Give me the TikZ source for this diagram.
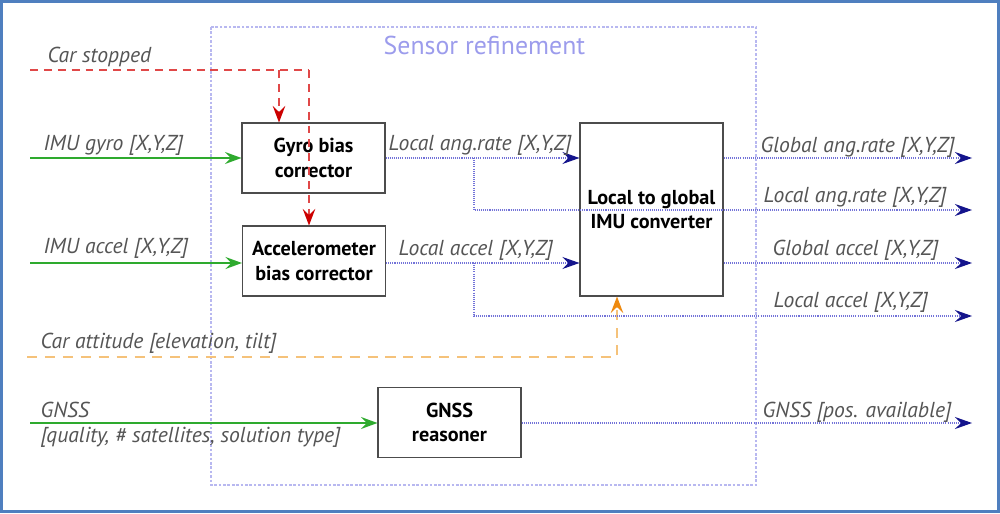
\documentclass[tikz,border=0pt]{standalone}
\usepackage{fontspec}
\setmainfont{PT Sans}
\usepackage{xcolor}
\usetikzlibrary{positioning}
\usetikzlibrary{arrows.meta}

\definecolor{framecol}{HTML}{4F7FBF}
\definecolor{groupcol}{HTML}{B8B8F0}
\definecolor{titlecol}{HTML}{9C9CEC}
\definecolor{labelcol}{HTML}{555555}
\definecolor{ingreen}{HTML}{2EAA2E}
\definecolor{stopred}{HTML}{E04848}
\definecolor{attorange}{HTML}{F5C27A}
\definecolor{attdark}{HTML}{EE8A10}
\definecolor{outline}{HTML}{7272D8}
\definecolor{outnavy}{HTML}{14148C}

\begin{document}
\begin{tikzpicture}[x=0.2mm, y=-0.2mm, thick,
  block/.style = {draw=black!70, semithick, minimum width=28.6mm, minimum height=14mm, align=center, font=\bfseries\fontsize{11.5}{14}\selectfont},
  lbl/.style = {anchor=west, inner sep=0pt, text=labelcol, font=\itshape\fontsize{12.3}{14}\selectfont},
  green in/.style = {draw=ingreen, -{Stealth[length=3.3mm, width=2.4mm, inset=1.2mm]}},
  stop in/.style = {draw=stopred, line width=0.8pt, dash pattern=on 4.5pt off 3.4pt, -{Stealth[length=3.3mm, width=2.5mm, inset=1.2mm, color=red!80!black]}},
  att in/.style = {draw=attorange, line width=0.8pt, dash pattern=on 5.7pt off 4.5pt, -{Stealth[length=3.3mm, width=2.5mm, inset=1.2mm, color=attdark]}},
  outflow/.style = {draw=outline, line width=0.7pt, dash pattern=on 0.6pt off 0.6pt, -{Stealth[length=3.4mm, width=2.4mm, inset=1.2mm, color=outnavy]}}]

\useasboundingbox (0,0) rectangle (1000,513);
\draw[framecol, line width=0.6mm] (1.5,1.5) rectangle (998.5,511.5);

% sensor refinement group
\draw[groupcol, line width=0.6pt, dash pattern=on 1.5pt off 1pt] (211,27) rectangle (756,485);
\node[text=titlecol, font=\fontsize{14.7}{16}\selectfont, anchor=west, inner sep=0pt] (title) at (383,45) {Sensor refinement};

% blocks
\node[block] (gyro) at (313.5,158) {Gyro bias\\corrector};
\node[block] (accel) at (314,261) {Accelerometer\\bias corrector};
\node[block, minimum height=34.6mm] (conv) at (651.5,209.5) {Local to global\\IMU converter};
\node[block] (gnss) at (449.5,422.5) {GNSS\\reasoner};

% free ends
\coordinate (stopin) at (30,70);
\coordinate (stopa) at (309,70);
\coordinate (stopg) at (279,70);
\coordinate (gyroin) at (30,158);
\coordinate (accelin) at (30,263);
\coordinate (attin) at (27,357);
\coordinate (attup) at (617,357);
\coordinate (gnssin) at (30,423);
\coordinate (rateup) at (474,158);
\coordinate (accup) at (474,263);
\coordinate (grate) at (972,158);
\coordinate (lrate) at (972,210);
\coordinate (gacc) at (972,263);
\coordinate (lacc) at (972,316);
\coordinate (gpos) at (972,423);

% inputs
\draw[stop in, -] (stopin) -- (stopa);
\draw[stop in] (stopa) -- (stopa |- accel.north);
\draw[stop in] (stopg) -- (stopg |- gyro.north);
\draw[green in] (gyroin) -- (gyro);
\draw[green in] (accelin) -- (accelin -| accel.west);
\draw[att in] (attin) -- (attup) -- (attup |- conv.south);
\draw[green in] (gnssin) -- (gnssin -| gnss.west);

% outputs
\draw[outflow] (gyro) -- (gyro -| conv.west);
\draw[outflow] (rateup) |- (lrate);
\draw[outflow] (accel.east |- accelin) -- (accelin -| conv.west);
\draw[outflow] (accup) |- (lacc);
\draw[outflow] (conv.east |- grate) -- (grate);
\draw[outflow] (conv.east |- gacc) -- (gacc);
\draw[outflow] (gnss.east |- gpos) -- (gpos);

% labels
\node[lbl] (l1) at (47,57) {Car stopped};
\node[lbl] (l2) at (43,145) {IMU gyro [X,Y,Z]};
\node[lbl] (l3) at (43,248) {IMU accel [X,Y,Z]};
\node[lbl] (l4) at (40,343) {Car attitude [elevation, tilt]};
\node[lbl] (l5) at (40,410) {GNSS};
\node[lbl] (l6) at (40,437) {[quality, \# satellites, solution type]};
\node[lbl] (l7) at (388,145) {Local ang.rate [X,Y,Z]};
\node[lbl] (l8) at (398,250) {Local accel [X,Y,Z]};
\node[lbl] (l9) at (760,147) {Global ang.rate [X,Y,Z]};
\node[lbl] (l10) at (763,197) {Local ang.rate [X,Y,Z]};
\node[lbl] (l11) at (772,250) {Global accel [X,Y,Z]};
\node[lbl] (l12) at (773,302) {Local accel [X,Y,Z]};
\node[lbl] (l13) at (762,412) {GNSS [pos. available]};
\end{tikzpicture}
\end{document}
